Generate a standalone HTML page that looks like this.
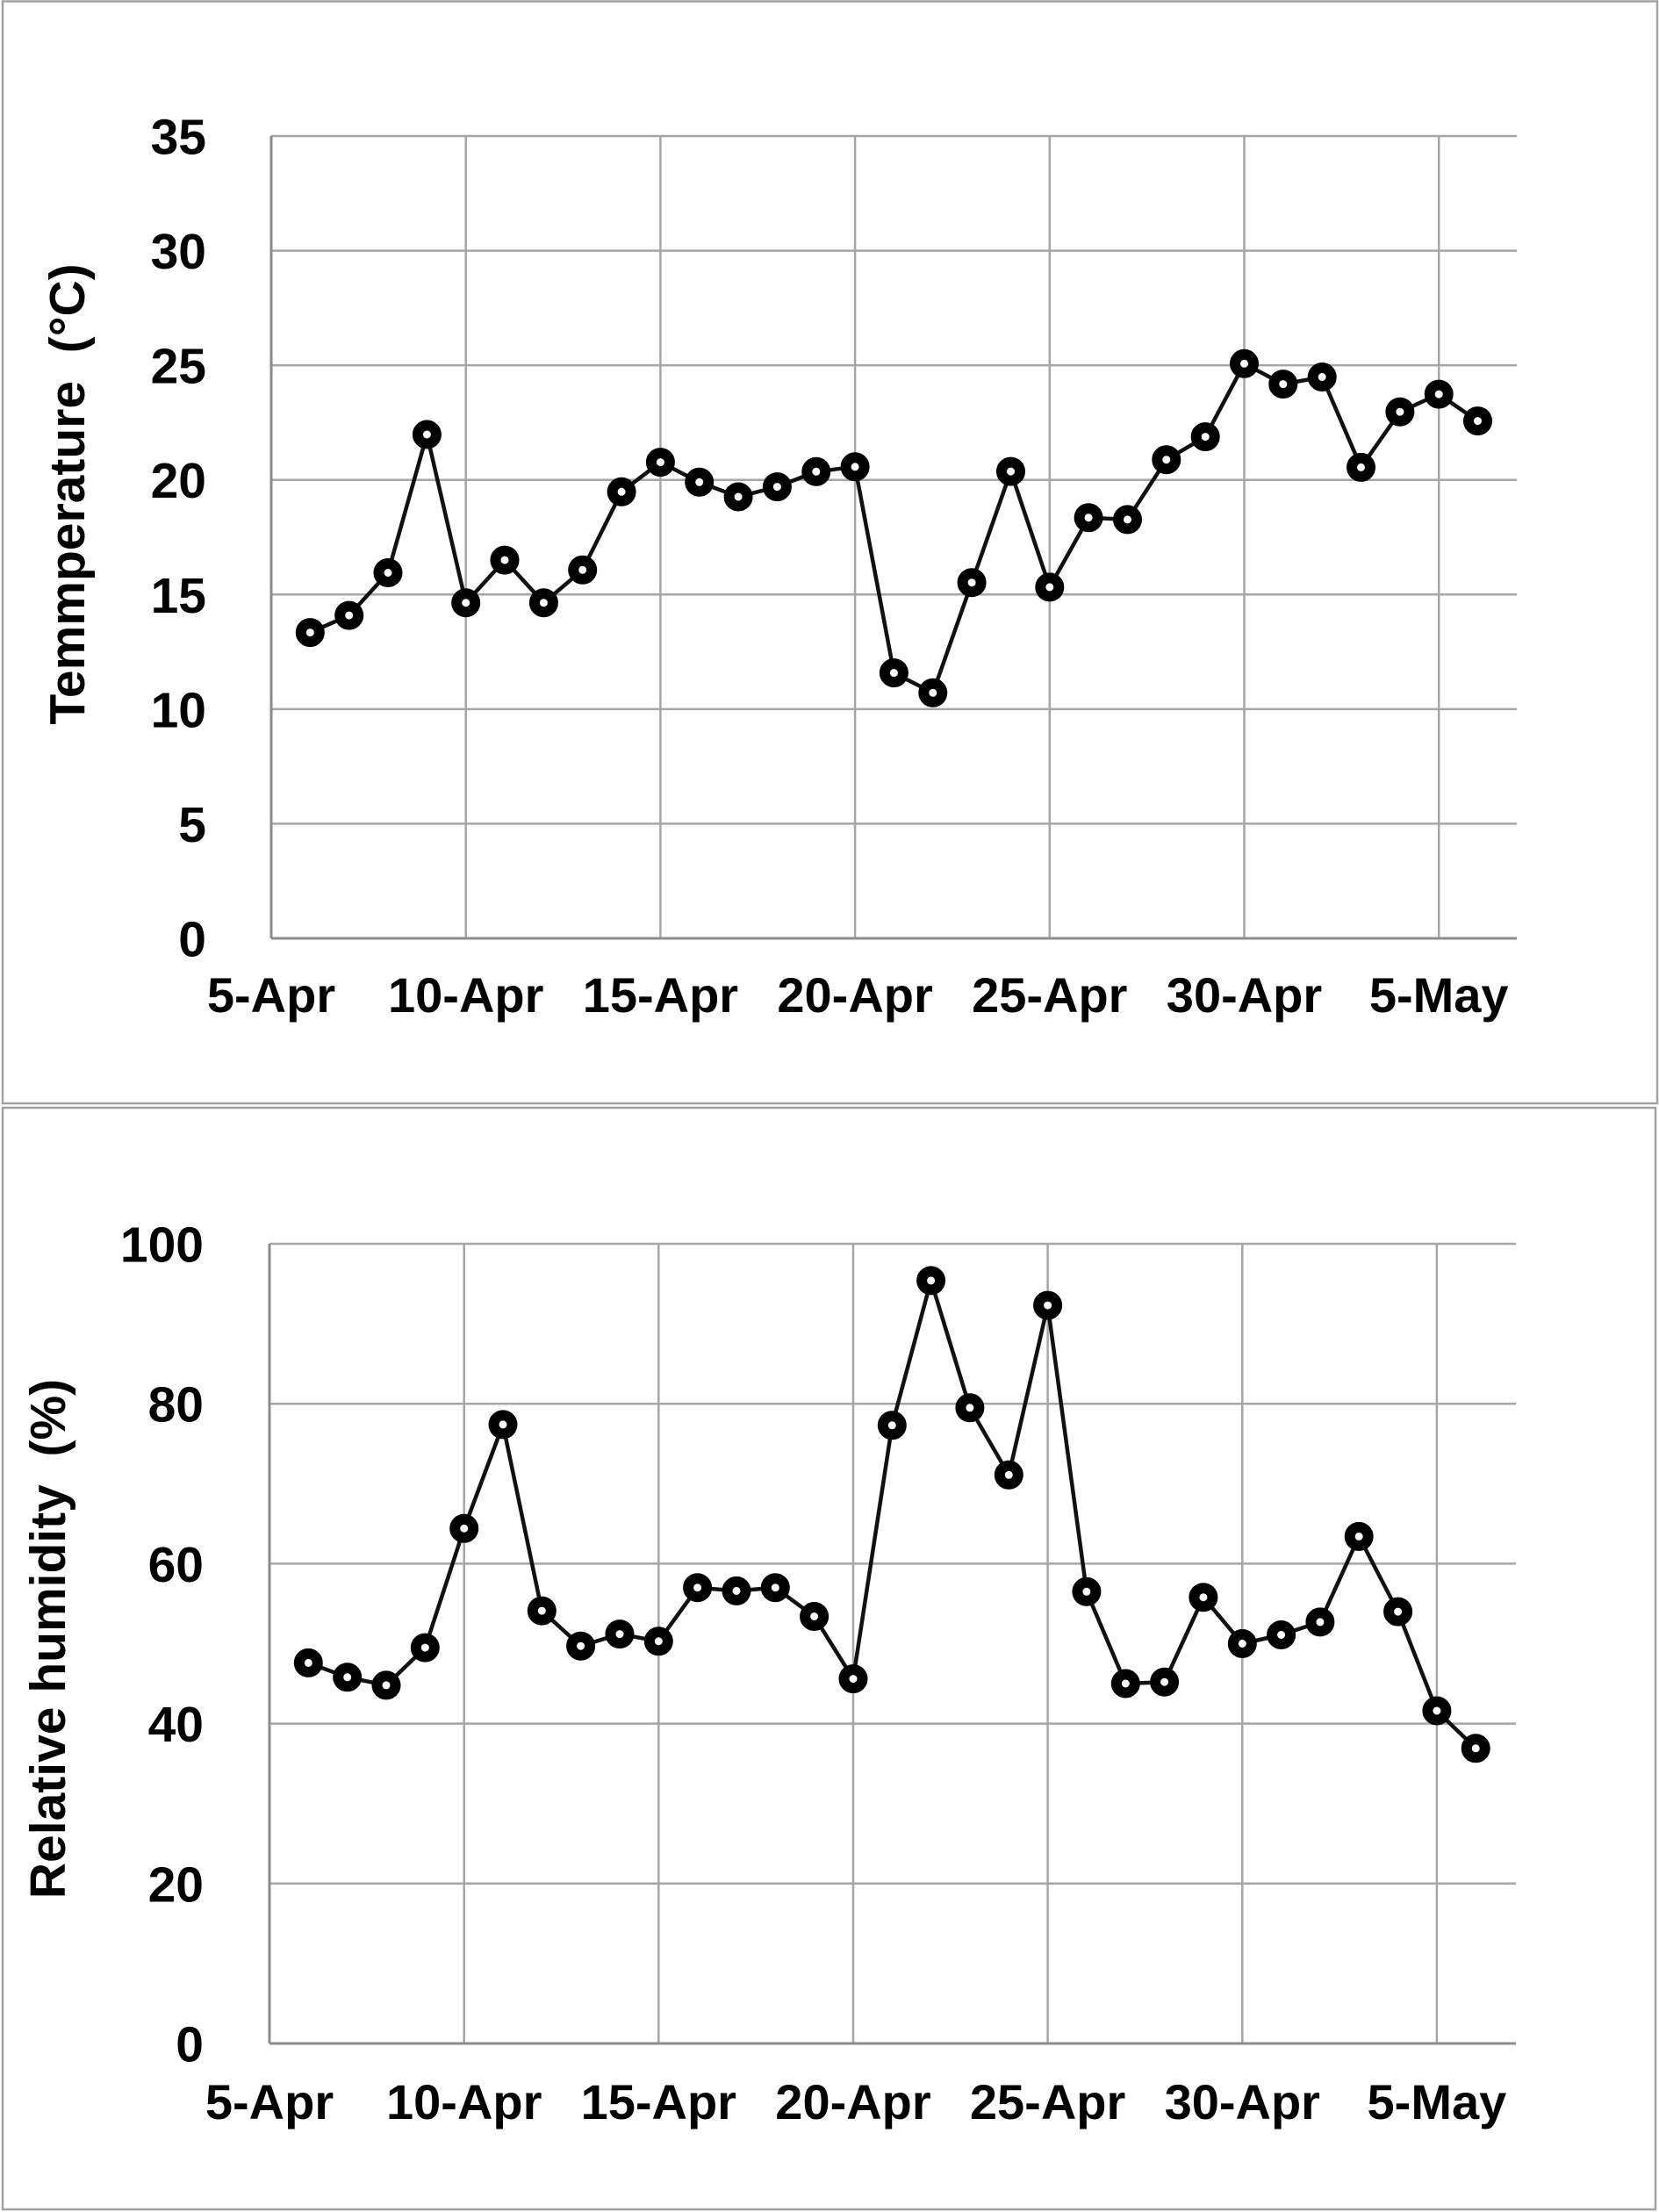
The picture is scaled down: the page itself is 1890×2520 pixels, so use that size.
<!DOCTYPE html>
<html>
<head>
<meta charset="utf-8">
<style>
  html, body { margin: 0; padding: 0; background: #ffffff; }
  svg { display: block; }
  text { font-family: "Liberation Sans", Arial, sans-serif; font-weight: bold; fill: #000; }
</style>
</head>
<body>
<svg width="1890" height="2520" viewBox="0 0 1890 2520" xmlns="http://www.w3.org/2000/svg">
  <rect x="0" y="0" width="1890" height="2520" fill="#ffffff"/>

  <!-- Panel borders -->
  <rect x="3" y="1.5" width="1885" height="1255.5" fill="none" stroke="#a3a3a3" stroke-width="2.5"/>
  <rect x="3" y="1262" width="1883" height="1255" fill="none" stroke="#a3a3a3" stroke-width="2.5"/>

  <!-- ================= TOP CHART (Temperature) ================= -->
  <g stroke="#a6a6a6" stroke-width="2.5" fill="none">
    <!-- horizontal gridlines -->
    <line x1="309" y1="155" x2="1728" y2="155"/>
    <line x1="309" y1="285.6" x2="1728" y2="285.6"/>
    <line x1="309" y1="416.1" x2="1728" y2="416.1"/>
    <line x1="309" y1="546.7" x2="1728" y2="546.7"/>
    <line x1="309" y1="677.3" x2="1728" y2="677.3"/>
    <line x1="309" y1="807.9" x2="1728" y2="807.9"/>
    <line x1="309" y1="938.4" x2="1728" y2="938.4"/>
    <!-- vertical gridlines -->
    <line x1="530.7" y1="155" x2="530.7" y2="1069"/>
    <line x1="752.4" y1="155" x2="752.4" y2="1069"/>
    <line x1="974.1" y1="155" x2="974.1" y2="1069"/>
    <line x1="1195.8" y1="155" x2="1195.8" y2="1069"/>
    <line x1="1417.5" y1="155" x2="1417.5" y2="1069"/>
    <line x1="1639.2" y1="155" x2="1639.2" y2="1069"/>
  </g>
  <g stroke="#8c8c8c" stroke-width="3" fill="none">
    <line x1="309" y1="155" x2="309" y2="1069"/>
    <line x1="309" y1="1069" x2="1728" y2="1069"/>
  </g>

  <!-- Y tick labels -->
  <g font-size="57" text-anchor="end">
    <text x="235" y="175.5">35</text>
    <text x="235" y="306.1">30</text>
    <text x="235" y="436.6">25</text>
    <text x="235" y="567.2">20</text>
    <text x="235" y="697.8">15</text>
    <text x="235" y="828.4">10</text>
    <text x="235" y="958.9">5</text>
    <text x="235" y="1089.5">0</text>
  </g>
  <!-- X tick labels -->
  <g font-size="56" text-anchor="middle">
    <text x="309" y="1153">5-Apr</text>
    <text x="530.7" y="1153">10-Apr</text>
    <text x="752.4" y="1153">15-Apr</text>
    <text x="974.1" y="1153">20-Apr</text>
    <text x="1195.8" y="1153">25-Apr</text>
    <text x="1417.5" y="1153">30-Apr</text>
    <text x="1639.2" y="1153">5-May</text>
  </g>
  <!-- Y axis title -->
  <text font-size="57" text-anchor="middle" transform="translate(96,563) rotate(-90)" xml:space="preserve">Temmperature  (°C)</text>

  <!-- Series -->
  <polyline fill="none" stroke="#111" stroke-width="4.5" stroke-linejoin="round"
    points="353.3,720.6 397.7,701.1 442.0,652.5 486.4,495.0 530.7,686.7 575.0,638.1 619.4,686.7 663.7,649.3 708.1,560.3 752.4,526.6 796.7,549.3 841.1,566.0 885.4,554.6 929.8,537.3 974.1,531.8 1018.4,766.6 1062.8,789.3 1107.1,663.7 1151.5,537.1 1195.8,668.9 1240.1,589.8 1284.5,591.9 1328.8,523.7 1373.2,497.6 1417.5,414.3 1461.8,437.6 1506.2,429.5 1550.5,532.4 1594.9,469.2 1639.2,449.1 1683.5,479.6"/>
  <g fill="#fff" stroke="#000" stroke-width="12">
    <circle cx="353.3" cy="720.6" r="10.5"/>
    <circle cx="397.7" cy="701.1" r="10.5"/>
    <circle cx="442.0" cy="652.5" r="10.5"/>
    <circle cx="486.4" cy="495.0" r="10.5"/>
    <circle cx="530.7" cy="686.7" r="10.5"/>
    <circle cx="575.0" cy="638.1" r="10.5"/>
    <circle cx="619.4" cy="686.7" r="10.5"/>
    <circle cx="663.7" cy="649.3" r="10.5"/>
    <circle cx="708.1" cy="560.3" r="10.5"/>
    <circle cx="752.4" cy="526.6" r="10.5"/>
    <circle cx="796.7" cy="549.3" r="10.5"/>
    <circle cx="841.1" cy="566.0" r="10.5"/>
    <circle cx="885.4" cy="554.6" r="10.5"/>
    <circle cx="929.8" cy="537.3" r="10.5"/>
    <circle cx="974.1" cy="531.8" r="10.5"/>
    <circle cx="1018.4" cy="766.6" r="10.5"/>
    <circle cx="1062.8" cy="789.3" r="10.5"/>
    <circle cx="1107.1" cy="663.7" r="10.5"/>
    <circle cx="1151.5" cy="537.1" r="10.5"/>
    <circle cx="1195.8" cy="668.9" r="10.5"/>
    <circle cx="1240.1" cy="589.8" r="10.5"/>
    <circle cx="1284.5" cy="591.9" r="10.5"/>
    <circle cx="1328.8" cy="523.7" r="10.5"/>
    <circle cx="1373.2" cy="497.6" r="10.5"/>
    <circle cx="1417.5" cy="414.3" r="10.5"/>
    <circle cx="1461.8" cy="437.6" r="10.5"/>
    <circle cx="1506.2" cy="429.5" r="10.5"/>
    <circle cx="1550.5" cy="532.4" r="10.5"/>
    <circle cx="1594.9" cy="469.2" r="10.5"/>
    <circle cx="1639.2" cy="449.1" r="10.5"/>
    <circle cx="1683.5" cy="479.6" r="10.5"/>
  </g>

  <!-- ================= BOTTOM CHART (Humidity) ================= -->
  <g stroke="#a6a6a6" stroke-width="2.5" fill="none">
    <line x1="307" y1="1417" x2="1727" y2="1417"/>
    <line x1="307" y1="1599.2" x2="1727" y2="1599.2"/>
    <line x1="307" y1="1781.4" x2="1727" y2="1781.4"/>
    <line x1="307" y1="1963.6" x2="1727" y2="1963.6"/>
    <line x1="307" y1="2145.8" x2="1727" y2="2145.8"/>
    <line x1="528.7" y1="1417" x2="528.7" y2="2328"/>
    <line x1="750.3" y1="1417" x2="750.3" y2="2328"/>
    <line x1="972.0" y1="1417" x2="972.0" y2="2328"/>
    <line x1="1193.6" y1="1417" x2="1193.6" y2="2328"/>
    <line x1="1415.3" y1="1417" x2="1415.3" y2="2328"/>
    <line x1="1636.9" y1="1417" x2="1636.9" y2="2328"/>
  </g>
  <g stroke="#8c8c8c" stroke-width="3" fill="none">
    <line x1="307" y1="1417" x2="307" y2="2328"/>
    <line x1="307" y1="2328" x2="1727" y2="2328"/>
  </g>

  <g font-size="57" text-anchor="end">
    <text x="232" y="1437.5">100</text>
    <text x="232" y="1619.7">80</text>
    <text x="232" y="1801.9">60</text>
    <text x="232" y="1984.1">40</text>
    <text x="232" y="2166.3">20</text>
    <text x="232" y="2348.5">0</text>
  </g>
  <g font-size="56" text-anchor="middle">
    <text x="307" y="2414">5-Apr</text>
    <text x="528.7" y="2414">10-Apr</text>
    <text x="750.3" y="2414">15-Apr</text>
    <text x="972.0" y="2414">20-Apr</text>
    <text x="1193.6" y="2414">25-Apr</text>
    <text x="1415.3" y="2414">30-Apr</text>
    <text x="1636.9" y="2414">5-May</text>
  </g>
  <text font-size="57" text-anchor="middle" transform="translate(74,1867) rotate(-90)" xml:space="preserve">Relative humidity  (%)</text>

  <polyline fill="none" stroke="#111" stroke-width="4.5" stroke-linejoin="round"
    points="351.3,1894.4 395.7,1910.8 440.0,1919.9 484.3,1877.1 528.7,1741.3 573.0,1622.9 617.3,1835.1 661.6,1875.2 706.0,1861.6 750.3,1869.8 794.6,1808.7 839.0,1812.4 883.3,1808.7 927.6,1841.5 972.0,1912.6 1016.3,1623.8 1060.6,1458.9 1104.9,1603.8 1149.3,1680.3 1193.6,1487.1 1237.9,1813.3 1282.3,1918.0 1326.6,1916.2 1370.9,1819.7 1415.3,1872.5 1459.6,1862.5 1503.9,1847.9 1548.2,1750.4 1592.6,1836.1 1636.9,1949.0 1681.2,1991.8"/>
  <g fill="#fff" stroke="#000" stroke-width="12">
    <circle cx="351.3" cy="1894.4" r="10.5"/>
    <circle cx="395.7" cy="1910.8" r="10.5"/>
    <circle cx="440.0" cy="1919.9" r="10.5"/>
    <circle cx="484.3" cy="1877.1" r="10.5"/>
    <circle cx="528.7" cy="1741.3" r="10.5"/>
    <circle cx="573.0" cy="1622.9" r="10.5"/>
    <circle cx="617.3" cy="1835.1" r="10.5"/>
    <circle cx="661.6" cy="1875.2" r="10.5"/>
    <circle cx="706.0" cy="1861.6" r="10.5"/>
    <circle cx="750.3" cy="1869.8" r="10.5"/>
    <circle cx="794.6" cy="1808.7" r="10.5"/>
    <circle cx="839.0" cy="1812.4" r="10.5"/>
    <circle cx="883.3" cy="1808.7" r="10.5"/>
    <circle cx="927.6" cy="1841.5" r="10.5"/>
    <circle cx="972.0" cy="1912.6" r="10.5"/>
    <circle cx="1016.3" cy="1623.8" r="10.5"/>
    <circle cx="1060.6" cy="1458.9" r="10.5"/>
    <circle cx="1104.9" cy="1603.8" r="10.5"/>
    <circle cx="1149.3" cy="1680.3" r="10.5"/>
    <circle cx="1193.6" cy="1487.1" r="10.5"/>
    <circle cx="1237.9" cy="1813.3" r="10.5"/>
    <circle cx="1282.3" cy="1918.0" r="10.5"/>
    <circle cx="1326.6" cy="1916.2" r="10.5"/>
    <circle cx="1370.9" cy="1819.7" r="10.5"/>
    <circle cx="1415.3" cy="1872.5" r="10.5"/>
    <circle cx="1459.6" cy="1862.5" r="10.5"/>
    <circle cx="1503.9" cy="1847.9" r="10.5"/>
    <circle cx="1548.2" cy="1750.4" r="10.5"/>
    <circle cx="1592.6" cy="1836.1" r="10.5"/>
    <circle cx="1636.9" cy="1949.0" r="10.5"/>
    <circle cx="1681.2" cy="1991.8" r="10.5"/>
  </g>
</svg>
</body>
</html>
